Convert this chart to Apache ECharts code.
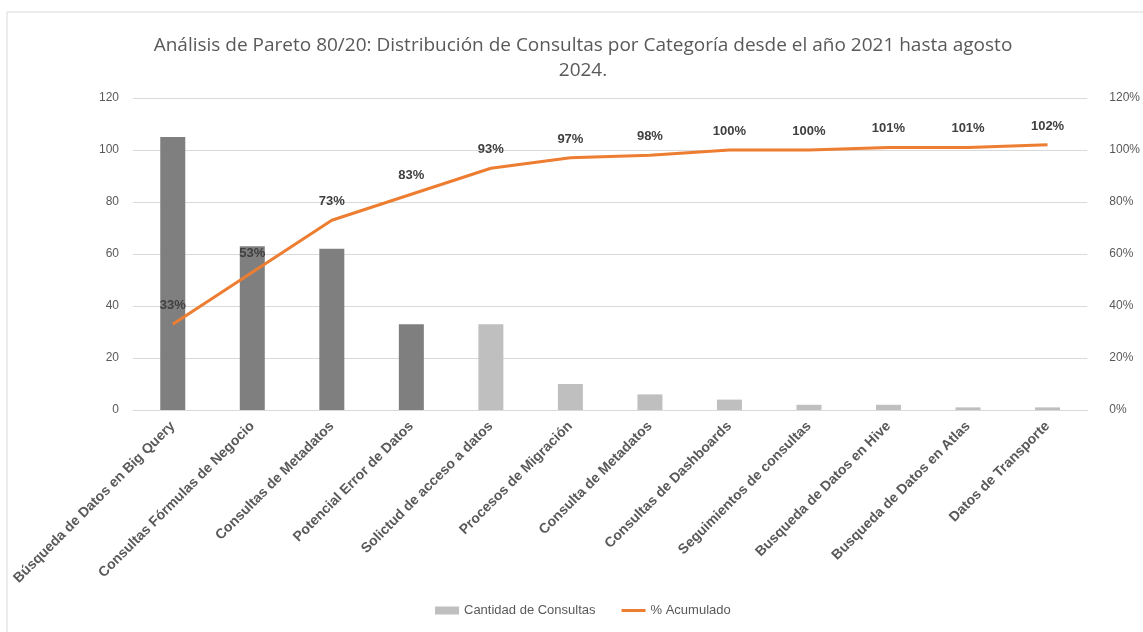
<!DOCTYPE html>
<html>
<head>
<meta charset="utf-8">
<script src="https://cdn.jsdelivr.net/npm/echarts@6/dist/echarts.min.js"></script>
<style>
  html, body { margin: 0; padding: 0; background: #fff; }
  #chart { width: 1143px; height: 632px; }
</style>
</head>
<body>
<div id="chart"></div>
<script>
// Categories of queries, sorted by count
const categories = [
  'Búsqueda de Datos en Big Query',
  'Consultas Fórmulas de Negocio',
  'Consultas de Metadatos',
  'Potencial Error de Datos',
  'Solictud de acceso a datos',
  'Procesos de Migración',
  'Consulta de Metadatos',
  'Consultas de Dashboards',
  'Seguimientos de consultas',
  'Busqueda de Datos en Hive',
  'Busqueda de Datos en Atlas',
  'Datos de Transporte'
];
// Number of queries per category
const cantidad = [105, 63, 62, 33, 33, 10, 6, 4, 2, 2, 1, 1];
// Accumulated percentage
const acumulado = [33, 53, 73, 83, 93, 97, 98, 100, 100, 101, 101, 102];
// Categories inside the 80% group (dark bars)
const vitalCount = 4;

const leftTicks = { min: 0, max: 120, interval: 20 };
const rightTicks = { min: 0, max: 120, interval: 20 };

const titleText = 'Análisis de Pareto 80/20: Distribución de Consultas por Categoría desde el año 2021 hasta agosto\n2024.';

const textGrey = '#595959';
const gridGrey = '#d9d9d9';
const orange = '#ED7D31';

const chart = echarts.init(document.getElementById('chart'));
chart.setOption({
  animation: false,
  backgroundColor: '#ffffff',
  graphic: [
    {
      type: 'rect',
      shape: { x: 7, y: 12, width: 1200, height: 700 },
      style: { fill: 'none', stroke: gridGrey, lineWidth: 1 },
      silent: true,
      z: -10
    },
    {
      type: 'text',
      silent: true,
      style: {
        text: titleText,
        x: 583,
        y: 33,
        align: 'center',
        verticalAlign: 'top',
        fontFamily: 'Open Sans',
        fontSize: 19,
        lineHeight: 25,
        fill: textGrey
      }
    }
  ],
  legend: {
    bottom: 10,
    left: 430,
    itemGap: 26,
    itemWidth: 24,
    itemHeight: 8,
    textStyle: { fontFamily: 'Liberation Sans', fontSize: 13, color: textGrey },
    data: [
      { name: 'Cantidad de Consultas', icon: 'rect', itemStyle: { color: '#bfbfbf' } },
      { name: '% Acumulado', icon: 'path://M0,0 L24,0 L24,3 L0,3 Z', itemStyle: { color: orange } }
    ]
  },
  grid: { left: 133, right: 50, top: 98, bottom: 222, containLabel: false },
  xAxis: {
    type: 'category',
    data: categories,
    axisLine: { show: true, lineStyle: { color: gridGrey } },
    axisTick: { show: false },
    axisLabel: {
      interval: 0,
      rotate: 45,
      margin: 14,
      fontFamily: 'Liberation Sans',
      fontSize: 14,
      fontWeight: 'bold',
      color: textGrey
    }
  },
  yAxis: [
    {
      type: 'value',
      min: leftTicks.min, max: leftTicks.max, interval: leftTicks.interval,
      axisLine: { show: false },
      axisTick: { show: false },
      splitLine: { lineStyle: { color: gridGrey } },
      axisLabel: { fontFamily: 'Liberation Sans', fontSize: 12, color: textGrey, margin: 14 }
    },
    {
      type: 'value',
      min: rightTicks.min, max: rightTicks.max, interval: rightTicks.interval,
      axisLine: { show: false },
      axisTick: { show: false },
      splitLine: { show: false },
      axisLabel: { fontFamily: 'Liberation Sans', fontSize: 12, color: textGrey, margin: 22, formatter: '{value}%' }
    }
  ],
  series: [
    {
      name: 'Cantidad de Consultas',
      type: 'bar',
      barWidth: 25,
      itemStyle: { color: '#bfbfbf' },
      data: cantidad.map((v, i) => ({
        value: v,
        itemStyle: { color: i < vitalCount ? '#7f7f7f' : '#bfbfbf' }
      }))
    },
    {
      name: '% Acumulado',
      type: 'line',
      yAxisIndex: 1,
      data: acumulado,
      symbol: 'circle',
      symbolSize: 0.1,
      itemStyle: { color: orange },
      lineStyle: { color: orange, width: 3 },
      label: {
        show: true,
        position: 'top',
        distance: 12,
        formatter: p => p.value + '%',
        fontFamily: 'Liberation Sans',
        fontSize: 13,
        fontWeight: 'bold',
        color: '#404040'
      },
      z: 5
    }
  ]
});
</script>
</body>
</html>
